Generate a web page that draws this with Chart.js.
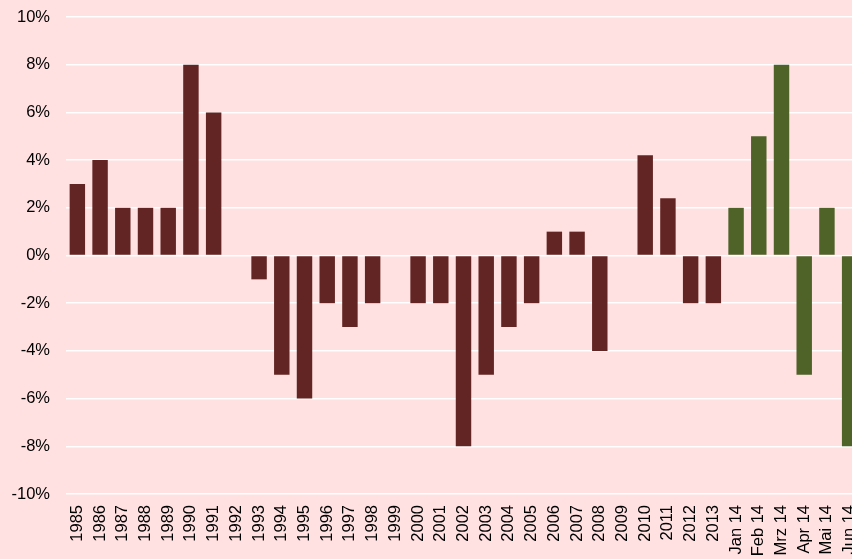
<!DOCTYPE html>
<html>
<head>
<meta charset="utf-8">
<script src="https://cdn.jsdelivr.net/npm/chart.js@4/dist/chart.umd.min.js"></script>
<style>
html,body{margin:0;padding:0;background:#FFE1E1;overflow:hidden;width:852px;height:559px;}
#wrap{position:absolute;left:0;top:0;width:861px;height:559px;}
</style>
</head>
<body>
<div id="wrap"><canvas id="c" width="861" height="559"></canvas></div>
<script>
const categories = ["1985","1986","1987","1988","1989","1990","1991","1992","1993","1994","1995","1996","1997","1998","1999","2000","2001","2002","2003","2004","2005","2006","2007","2008","2009","2010","2011","2012","2013","Jan 14","Feb 14","Mrz 14","Apr 14","Mai 14","Jun 14"];
const values = [3,4,2,2,2,8,6,0,-1,-5,-6,-2,-3,-2,0,-2,-2,-8,-5,-3,-2,1,1,-4,0,4.2,2.4,-2,-2,2,5,8,-5,2,-8];
const monthlyLabels = ["Jan 14","Feb 14","Mrz 14","Apr 14","Mai 14","Jun 14"];
const yTicks = [-10,-8,-6,-4,-2,0,2,4,6,8,10];
const yearColor = "#632523";
const monthColor = "#4F6228";

const colors = categories.map(c => monthlyLabels.includes(c) ? monthColor : yearColor);

new Chart(document.getElementById('c'), {
  type: 'bar',
  data: {
    labels: categories,
    datasets: [{ data: values, backgroundColor: colors, borderWidth: 0, barPercentage: 0.68, categoryPercentage: 1 }]
  },
  options: {
    responsive: false,
    animation: false,
    devicePixelRatio: 1,
    layout: { padding: { top: 17, right: 0, left: 0, bottom: 0 } },
    plugins: { legend: { display: false }, tooltip: { enabled: false } },
    scales: {
      x: {
        grid: { display: false, drawTicks: false },
        border: { display: false },
        ticks: { autoSkip: false, minRotation: 90, maxRotation: 90, padding: 11, color: '#000', font: { family: 'Liberation Sans, Arial, sans-serif', size: 16.5 } },
        afterFit(s) { s.height = 65; s.paddingLeft = 0; s.paddingRight = 0; }
      },
      y: {
        min: -10, max: 10,
        afterBuildTicks(s) { s.ticks = yTicks.map(v => ({ value: v })); },
        grid: { color: '#FFFFFF', lineWidth: 1.5, drawTicks: false },
        border: { display: false },
        ticks: { padding: 16, color: '#000', font: { family: 'Liberation Sans, Arial, sans-serif', size: 16.5 }, callback: v => v + '%' },
        afterFit(s) { s.width = 66; s.paddingTop = 0; s.paddingBottom = 0; }
      }
    }
  }
});
</script>
</body>
</html>
